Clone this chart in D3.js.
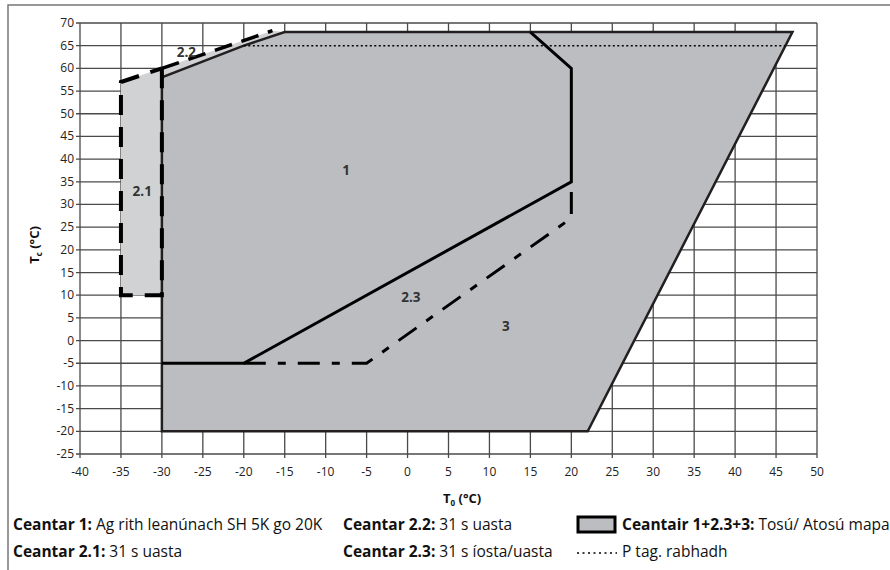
<!DOCTYPE html>
<html>
<head>
<meta charset="utf-8">
<script src="https://cdn.jsdelivr.net/npm/d3@7"></script>
<style>
  body { margin: 0; background: #fff; }
  svg { display: block; font-family: "Open Sans", "Lato", sans-serif; }
</style>
</head>
<body>
<div id="chart"></div>
<script>
// axis ticks
const xTicks = [-40, -35, -30, -25, -20, -15, -10, -5, 0, 5, 10, 15, 20, 25, 30, 35, 40, 45, 50];
const yTicks = [-25, -20, -15, -10, -5, 0, 5, 10, 15, 20, 25, 30, 35, 40, 45, 50, 55, 60, 65, 70];

// envelope corners [T0, Tc]
const envelope = [[-30, -20], [-30, 58], [-20, 65], [-15, 68], [47, 68], [22, -20]];
const area1Line = [[-30, -5], [-20, -5], [20, 35], [20, 60], [15, 68]];
const area23Line = [[-20, -5], [-5, -5], [20, 27], [20, 35]];
const area21Line = [[-30, 60], [-30, 10], [-35, 10], [-35, 57], [-30, 60]];
const area22Line = [[-30, 60], [-16.5, 68.3]];
const lightArea = [[-35, 10], [-35, 57], [-30, 60], [-16.5, 68.3], [-15, 68], [-20, 65], [-30, 58], [-30, 10]];
const warnLine = [[-20, 65], [46.1, 65]];

const areaLabels = [
  { text: "2.2", x: -27, y: 63.4 },
  { text: "2.1", x: -32.4, y: 32.7 },
  { text: "1", x: -7.5, y: 37.2 },
  { text: "2.3", x: 0.4, y: 9.4 },
  { text: "3", x: 12, y: 3 }
];

const legendRows = [
  { bold: "Ceantar 1:", rest: " Ag rith leanúnach SH 5K go 20K", col: 0, row: 0 },
  { bold: "Ceantar 2.2:", rest: " 31 s uasta", col: 1, row: 0 },
  { bold: "Ceantair 1+2.3+3:", rest: " Tosú/ Atosú mapa", col: 2, row: 0 },
  { bold: "Ceantar 2.1:", rest: " 31 s uasta", col: 0, row: 1 },
  { bold: "Ceantar 2.3:", rest: " 31 s íosta/uasta", col: 1, row: 1 },
  { bold: "", rest: "P tag. rabhadh", col: 2, row: 1 }
];

const width = 890, height = 570;
const darkFill = "#bcbdc1", lightFill = "#d1d2d4";

const x = d3.scaleLinear().domain([-40, 50]).range([80, 817]);
const y = d3.scaleLinear().domain([-25, 70]).range([454, 23]);

const svg = d3.select("#chart").append("svg")
  .attr("width", width).attr("height", height);

// page frame (top and left)
svg.append("path")
  .attr("d", "M8,570 L8,5 L890,5")
  .attr("fill", "none").attr("stroke", "#777").attr("stroke-width", 1.5);

// grid
const grid = svg.append("g");
grid.selectAll(".vg").data(xTicks).join("line")
  .attr("x1", d => x(d)).attr("x2", d => x(d))
  .attr("y1", y(70)).attr("y2", y(-25) + 4)
  .attr("stroke", "#4a4a4a").attr("stroke-width", 1.3);
grid.selectAll(".hg").data(yTicks).join("line")
  .attr("x1", x(-40) - 4).attr("x2", x(50))
  .attr("y1", d => y(d)).attr("y2", d => y(d))
  .attr("stroke", "#4a4a4a").attr("stroke-width", 1.3);

const line = d3.line().x(d => x(d[0])).y(d => y(d[1]));

// light areas 2.1 / 2.2
svg.append("path").attr("d", line(lightArea) + "Z").attr("fill", lightFill);

// envelope (1 + 2.3 + 3)
svg.append("path")
  .attr("d", line(envelope) + "Z")
  .attr("fill", darkFill).attr("stroke", "#231f20").attr("stroke-width", 2.5);

// P warning dotted line
svg.append("path").attr("d", line(warnLine))
  .attr("stroke", "#000").attr("stroke-width", 1.5).attr("stroke-dasharray", "2,2.5").attr("fill", "none");

// area 1
svg.append("path").attr("d", line(area1Line))
  .attr("fill", "none").attr("stroke", "#000").attr("stroke-width", 3);

// area 2.3 dash-dot
svg.append("path").attr("d", line(area23Line))
  .attr("fill", "none").attr("stroke", "#000").attr("stroke-width", 3)
  .attr("stroke-dasharray", "22,12,8,12");

// area 2.1 and 2.2 dashed
svg.append("path").attr("d", line(area21Line))
  .attr("fill", "none").attr("stroke", "#000").attr("stroke-width", 4)
  .attr("stroke-dasharray", "20,12");
svg.append("path").attr("d", line(area22Line))
  .attr("fill", "none").attr("stroke", "#000").attr("stroke-width", 3.5)
  .attr("stroke-dasharray", "18,10");

// area labels
svg.selectAll(".area-label").data(areaLabels).join("text")
  .attr("x", d => x(d.x)).attr("y", d => y(d.y))
  .attr("text-anchor", "middle").attr("dominant-baseline", "middle")
  .style("font-size", "13.5px").style("font-weight", "bold").style("fill", "#333")
  .text(d => d.text);

// tick labels
svg.selectAll(".ytl").data(yTicks).join("text")
  .attr("x", x(-40) - 6).attr("y", d => y(d) + 4)
  .attr("text-anchor", "end").style("font-size", "12px").style("fill", "#222")
  .text(d => d);
svg.selectAll(".xtl").data(xTicks).join("text")
  .attr("x", d => x(d)).attr("y", y(-25) + 22)
  .attr("text-anchor", "middle").style("font-size", "12px").style("fill", "#222")
  .text(d => d);

// axis titles
const xt = svg.append("text").attr("x", 443).attr("y", 503)
  .style("font-size", "13px").style("font-weight", "bold").style("fill", "#111");
xt.append("tspan").text("T");
xt.append("tspan").attr("dy", 3).style("font-size", "8px").text("0");
xt.append("tspan").attr("dy", -3).text(" (°C)");

const yt = svg.append("text").attr("transform", "translate(39,245) rotate(-90)")
  .attr("text-anchor", "middle")
  .style("font-size", "13px").style("font-weight", "bold").style("fill", "#111");
yt.append("tspan").text("T");
yt.append("tspan").attr("dy", 3).style("font-size", "8px").text("c");
yt.append("tspan").attr("dy", -3).text(" (°C)");

// legend
const colX = [13, 343, 622];
const rowY = [530, 557];
const leg = svg.selectAll(".leg").data(legendRows).join("text")
  .attr("x", d => colX[d.col]).attr("y", d => rowY[d.row])
  .style("font-size", "15.5px").style("fill", "#111");
leg.append("tspan").style("font-weight", "bold").text(d => d.bold);
leg.append("tspan").text(d => d.rest);

svg.append("rect").attr("x", 578).attr("y", 517).attr("width", 37).attr("height", 15)
  .attr("fill", darkFill).attr("stroke", "#000").attr("stroke-width", 3);
svg.append("line").attr("x1", 577).attr("x2", 617).attr("y1", 553).attr("y2", 553)
  .attr("stroke", "#000").attr("stroke-width", 1.5).attr("stroke-dasharray", "2,3.5");
</script>
</body>
</html>
